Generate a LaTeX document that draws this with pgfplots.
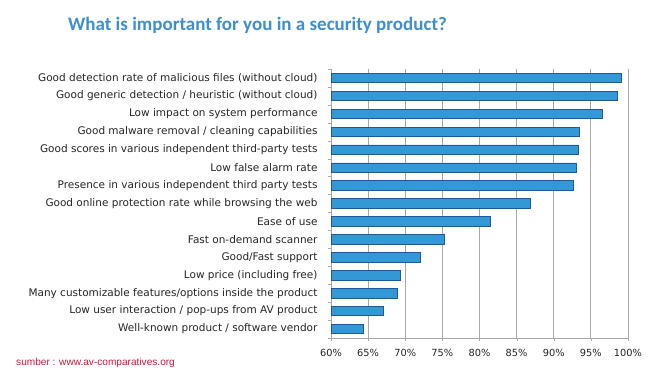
\documentclass[border=0pt]{standalone}
\usepackage{pgfplots}
\pgfplotsset{compat=1.18}
\usepackage{fontspec}
\setmainfont{DejaVu Sans}
\newfontfamily\titlefont{Carlito}
\newfontfamily\srcfont{Liberation Sans}
\definecolor{barblue}{HTML}{3399D6}
\definecolor{baredge}{HTML}{22589A}
\definecolor{titleblue}{HTML}{3E8FCC}
\definecolor{srcred}{HTML}{C41E3A}
\definecolor{gridgray}{HTML}{A8A8A8}
\pgfplotstableread{
y v
0 64.3
1 67.0
2 69.0
3 69.3
4 72.0
5 75.2
6 81.5
7 86.8
8 92.7
9 93.1
10 93.3
11 93.5
12 96.5
13 98.5
14 99.1
}\datatable
\begin{document}
\begin{tikzpicture}[x=1pt,y=1pt]
\useasboundingbox (0,0) rectangle (658,374);
\fill[white] (0,0) rectangle (658,374);
\node[anchor=west, inner sep=0pt, text=titleblue, font=\titlefont\bfseries\fontsize{19}{22}\selectfont] at (68,349) {What is important for you in a security product?};
\node[anchor=west, inner sep=0pt, text=srcred, font=\srcfont\fontsize{10.1}{12}\selectfont] at (16,11) {sumber : www.av-comparatives.org};
\begin{axis}[
  at={(331pt,36pt)}, anchor=south west,
  scale only axis, width=297pt, height=269pt,
  xbar, bar width=9.5pt,
  xmin=60, xmax=100, ymin=-0.5, ymax=14.5,
  xtick={60,65,...,100},
  xticklabels={60\%,65\%,70\%,75\%,80\%,85\%,90\%,95\%,100\%},
  ytick={0,...,14},
  yticklabels={Well-known product / software vendor,
    Low user interaction / pop-ups from AV product,
    Many customizable features/options inside the product,
    Low price (including free),
    Good/Fast support,
    Fast on-demand scanner,
    Ease of use,
    Good online protection rate while browsing the web,
    Presence in various independent third party tests,
    Low false alarm rate,
    Good scores in various independent third-party tests,
    Good malware removal / cleaning capabilities,
    Low impact on system performance,
    Good generic detection / heuristic (without cloud),
    Good detection rate of malicious files (without cloud)},
  minor ytick={-0.5,0.5,...,14.5},
  xmajorgrids, major grid style={gridgray, line width=0.8pt},
  axis line style={gridgray, line width=0.8pt},
  axis x line*=bottom, axis y line*=left,
  tick align=outside,
  major y tick style={draw=none},
  minor y tick style={gridgray},
  minor tick length=3pt,
  major x tick style={gridgray},
  major tick length=3pt,
  ticklabel style={font=\fontsize{10.5}{12}\selectfont, text=black!85},
  yticklabel style={xshift=-7pt},
  xticklabel style={yshift=-5pt, font=\fontsize{9.8}{12}\selectfont},
  /pgf/number format/assume math mode=true,
]
\addplot[fill=barblue, draw=baredge, line width=0.7pt] table[x=v, y=y] {\datatable};
\end{axis}
\end{tikzpicture}
\end{document}
